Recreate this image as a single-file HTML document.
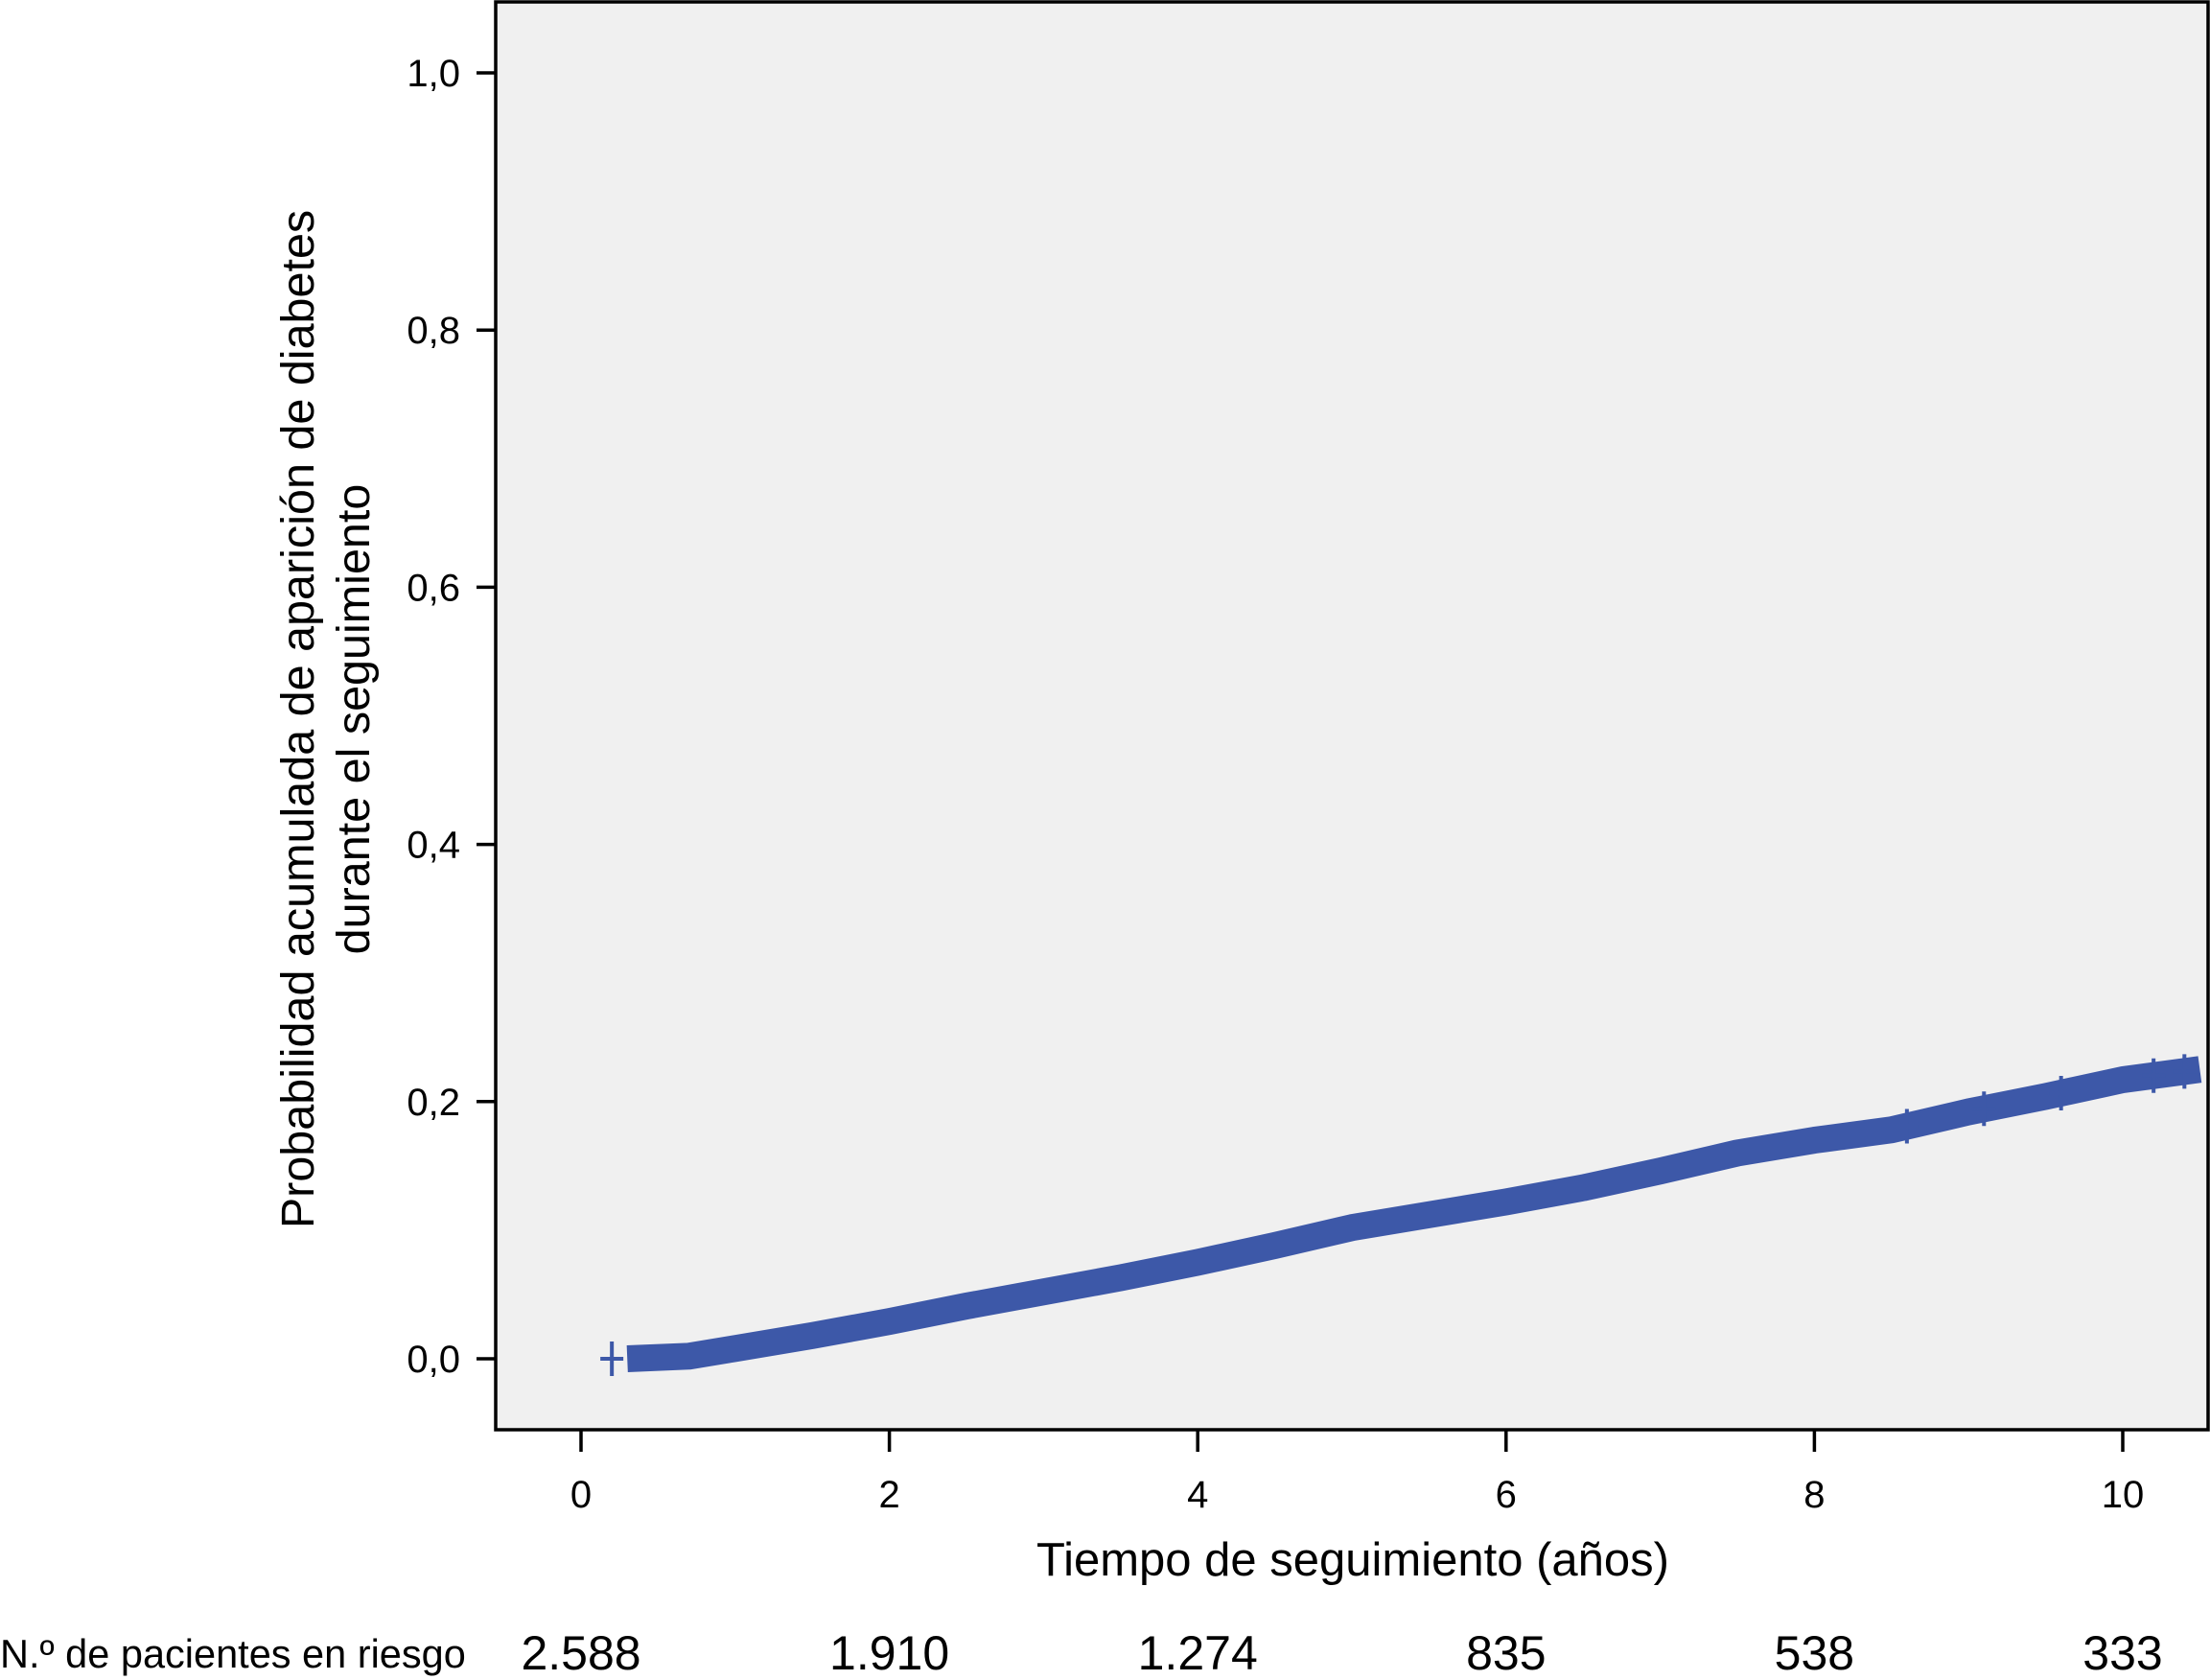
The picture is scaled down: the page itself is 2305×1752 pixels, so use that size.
<!DOCTYPE html>
<html><head><meta charset="utf-8"><style>
html,body{margin:0;padding:0;background:#fff;}
svg{display:block;font-family:"Liberation Sans",Arial,sans-serif;}
</style></head><body>
<svg id="chart" width="2305" height="1752" viewBox="0 0 2305 1752" xmlns="http://www.w3.org/2000/svg">
<rect x="517" y="2" width="1786" height="1489" fill="#f0f0f0" stroke="#000" stroke-width="3.5"/>
<g id="yaxis"></g>
<g id="xaxis"></g>
<g id="series"></g>
<g font-size="48.5" text-anchor="middle">
<text transform="translate(327,750) rotate(-90)">Probabilidad acumulada de aparición de diabetes</text>
<text transform="translate(385,750) rotate(-90)">durante el seguimiento</text>
</g>
<text x="1411" y="1643" font-size="49" text-anchor="middle">Tiempo de seguimiento (años)</text>
<text x="0" y="1739" font-size="41.5">N.º de pacientes en riesgo</text>
<g id="risk" font-size="50" text-anchor="middle"></g>
</svg>
<script>
const yTicks = [0, 0.2, 0.4, 0.6, 0.8, 1.0];
const yTickLabels = ["0,0","0,2","0,4","0,6","0,8","1,0"];
const xTicks = [0, 2, 4, 6, 8, 10];
const riskTimes = [0, 2, 4, 6, 8, 10];
const riskCounts = ["2.588","1.910","1.274","835","538","333"];
const curveT = [0.2, 0.3, 0.7, 1.0, 1.5, 2.0, 2.5, 3.0, 3.5, 4.0, 4.5, 5.0, 5.5, 6.0, 6.5, 7.0, 7.5, 8.0, 8.5, 9.0, 9.5, 10.0, 10.5];
const curveP = [0.0, 0.0, 0.002, 0.008, 0.018, 0.029, 0.041, 0.052, 0.063, 0.075, 0.088, 0.102, 0.112, 0.122, 0.133, 0.146, 0.160, 0.170, 0.178, 0.192, 0.204, 0.217, 0.225];
const censorT = [0.2, 8.6, 9.1, 9.6, 10.2, 10.4];

const NS = "http://www.w3.org/2000/svg";
const xs = t => 606 + t * 160.8;
const ys = p => 1417 - p * 1341;
function mk(tag, attrs, parent){const e=document.createElementNS(NS,tag);for(const k in attrs)e.setAttribute(k,attrs[k]);parent.appendChild(e);return e;}
function interp(t){for(let i=1;i<curveT.length;i++){if(t<=curveT[i]){const f=(t-curveT[i-1])/(curveT[i]-curveT[i-1]);return curveP[i-1]+f*(curveP[i]-curveP[i-1]);}}return curveP[curveP.length-1];}

const ya = document.getElementById('yaxis');
yTicks.forEach((v,i)=>{
  const l = mk('line',{x1:497,x2:517,y1:ys(v),y2:ys(v),stroke:'#000','stroke-width':3.5},ya);
  
  
  const t = mk('text',{x:480,y:ys(v)+14,'font-size':40,'text-anchor':'end'},ya);
  t.textContent = yTickLabels[i];
  
  
});
const xa = document.getElementById('xaxis');
xTicks.forEach(v=>{
  const l = mk('line',{x1:xs(v),x2:xs(v),y1:1491,y2:1514,stroke:'#000','stroke-width':3.5},xa);
  
  
  const t = mk('text',{x:xs(v),y:1572,'font-size':40,'text-anchor':'middle'},xa);
  t.textContent = String(v);
  
  
});
const sg = document.getElementById('series');
let d = '';
curveT.forEach((t,i)=>{ if(i>=1) d += (i===1?'M':'L') + xs(t) + ',' + ys(curveP[i]) + ' '; });
const path = mk('path',{d:d,fill:'none',stroke:'#3d58a8','stroke-width':28,'stroke-linejoin':'round'},sg);


censorT.forEach(t=>{
  const x = xs(t), y = ys(interp(t));
  const c = mk('path',{d:`M${x-12},${y}H${x+12}M${x},${y-18}V${y+18}`,stroke:'#3d58a8','stroke-width':4},sg);
  
  
});
const rg = document.getElementById('risk');
riskTimes.forEach((t,i)=>{
  const e = mk('text',{x:xs(t),y:1741},rg);
  e.textContent = riskCounts[i];
  
  
});
</script>
</body></html>
